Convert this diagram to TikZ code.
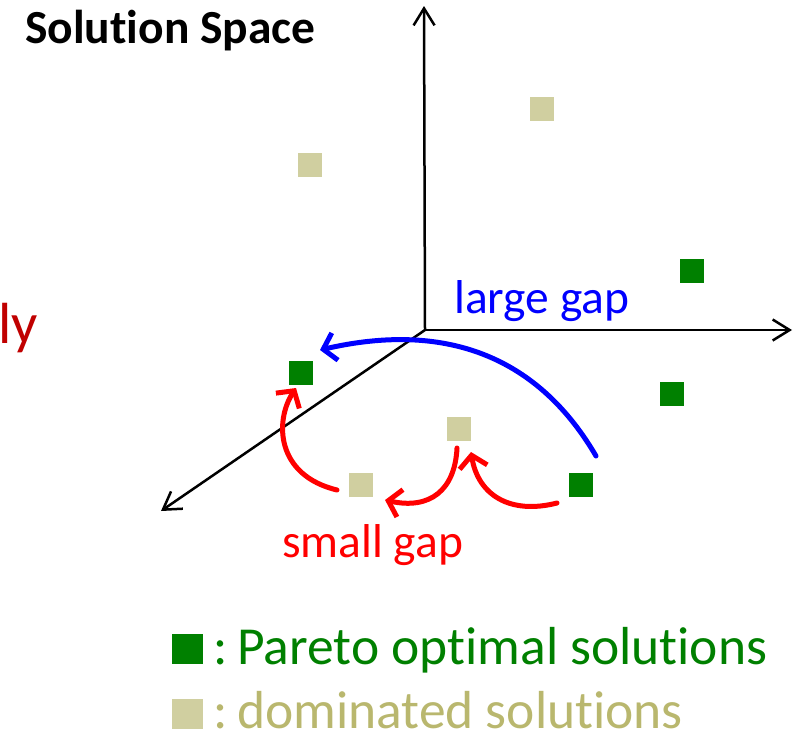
\documentclass[tikz,border=0pt]{standalone}
\usepackage{fontspec}
\setmainfont{Carlito}[Ligatures=NoCommon]
\usetikzlibrary{arrows.meta}
\definecolor{pgreen}{RGB}{0,128,0}
\definecolor{tanfill}{RGB}{208,207,160}
\definecolor{tantext}{RGB}{185,183,110}
\definecolor{dred}{RGB}{192,0,0}
\begin{document}
\begin{tikzpicture}[x=1pt,y=-1pt,
  sq/.style={minimum size=24pt, inner sep=0pt, draw=none},
  pareto/.style={sq, fill=pgreen},
  dom/.style={sq, fill=tanfill},
  legsq/.style={minimum width=31pt, minimum height=30pt, inner sep=0pt, draw=none},
  axis/.style={line width=2.5pt, -{Straight Barb[length=17pt,width=21pt]}},
  gaparrow/.style={line width=5pt, line cap=round, -{Straight Barb[length=12pt,width=28pt]}},
  lbl/.style={inner sep=0pt, anchor=base west, font=\fontsize{47.5}{52}\selectfont},
  leg/.style={inner sep=0pt, anchor=base west, font=\fontsize{53.5}{56}\selectfont}
]
\useasboundingbox (0,0) rectangle (794,731);

% title and cut-off text
\node[lbl, font=\fontsize{47.5}{52}\selectfont\bfseries] (title) at (25,43) {Solution Space};
\node[lbl, font=\fontsize{58}{64}\selectfont, text=dred] (ly) at (-2,343) {ly};

% axes
\coordinate (O) at (425,330);
\coordinate (xe) at (792,330);
\coordinate (ye) at (424,6);
\coordinate (ze) at (161,511);
\draw[axis] (O) -- (xe);
\draw[axis] (O) -- (ye);
\draw[axis] (O) -- (ze);

% solutions
\node[dom] (d1) at (310,165) {};
\node[dom] (d2) at (542,109) {};
\node[dom] (d3) at (459,429) {};
\node[dom] (d4) at (361,485) {};
\node[pareto] (p1) at (301,373) {};
\node[pareto] (p2) at (692,271) {};
\node[pareto] (p3) at (672,394) {};
\node[pareto] (p4) at (581,485) {};

% large gap arrow
\coordinate (bs) at (596,456);
\coordinate (bt) at (320,350);
\draw[gaparrow, blue] (bs) .. controls (540,360) and (450,320) .. (bt);
\node[lbl, text=blue] (large) at (454,313) {large gap};

% small gap arrows
\coordinate (r1s) at (557,503);
\coordinate (r1t) at (471,452);
\coordinate (r2s) at (457,448);
\coordinate (r2t) at (385,500);
\coordinate (r3s) at (337,490);
\coordinate (r3t) at (296,388);
\draw[gaparrow, red] (r1s) .. controls (510,515) and (478,495) .. (r1t);
\draw[gaparrow, red] (r2s) .. controls (455,490) and (430,510) .. (r2t);
\draw[gaparrow, red] (r3s) .. controls (275,475) and (275,420) .. (r3t);
\node[lbl, text=red] (small) at (282,557) {small gap};

% legend
\node[legsq, fill=pgreen] (lg1) at (187.5,649) {};
\node[leg, text=pgreen] (lt1) at (213,664) {:\hspace{-0.12em} Pareto optimal solutions};
\node[legsq, fill=tanfill] (lg2) at (187.5,713.5) {};
\node[leg, text=tantext] (lt2) at (213,728) {:\hspace{-0.12em} dominated solutions};
\end{tikzpicture}
\end{document}
